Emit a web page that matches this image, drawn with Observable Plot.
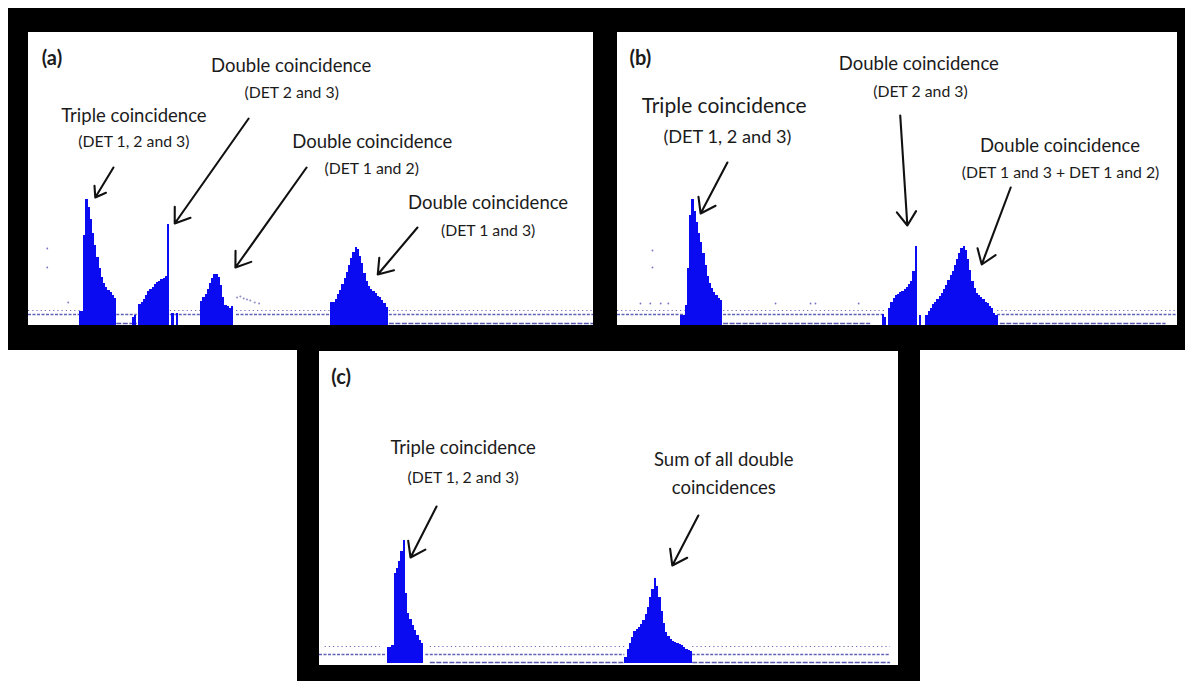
<!DOCTYPE html>
<html><head><meta charset="utf-8">
<script src="https://cdn.jsdelivr.net/npm/d3@7"></script>
<script src="https://cdn.jsdelivr.net/npm/@observablehq/plot@0.6"></script>
<style>
body{margin:0;background:#fff}
#fig{position:relative;width:1185px;height:681px;background:#fff;overflow:hidden}
.frame{position:absolute;background:#000}
.inner{position:absolute;line-height:0}
</style></head><body>
<div id="fig">
 <div class="frame" style="left:8px;top:8px;width:589px;height:342px"><div class="inner" id="pa" style="left:20px;top:24px"></div></div>
 <div class="frame" style="left:597px;top:8px;width:588px;height:342px"><div class="inner" id="pb" style="left:20px;top:24px"></div></div>
 <div class="frame" style="left:297px;top:350px;width:623px;height:331px"><div class="inner" id="pc" style="left:22px;top:1px"></div></div>
</div>
<script>
// ---- data: channel bins (4 channels each), counts per bin ----
const BIN = 4;

// panel (a)
const aPreStart = 92,    aPreCounts = [14, 14];
const aTripleStart = 100, aTripleCounts = [90,126,118,106,92,80,68,57,48,42,38,35,33,30,27];
const aD23PreStart = 188, aD23PreCounts = [8, 10];
const aD23Start = 200,   aD23Counts = [21,23,26,30,34,36,38,41,43,44,46,47,49,101];
const aD23PostStart = 260, aD23PostCounts = [12, 0, 12];
const aD12Start = 312,   aD12Counts = [24,28,31,36,42,47,51,51,48,40,28,20,19,17,19];
const aD13Start = 548,   aD13Counts = [23,23,26,31,35,41,47,53,60,67,73,78,76,69,62,52,44,39,36,34,32,29,28,25,22,18];

// panel (b)
const bPreStart = 116,   bPreCounts = [10, 10];
const bTripleStart = 124, bTripleCounts = [20,57,110,126,114,103,92,83,72,60,49,42,37,33,30,27,25];
const bD23PreStart = 484, bD23PreCounts = [11, 8];
const bD23Start = 496,   bD23Counts = [17,23,27,30,31,33,34,36,38,41,44,54,79];
const bD23PostStart = 552, bD23PostCounts = [10, 0, 0, 10];
const bDblStart = 568,   bDblCounts = [14,17,21,23,26,29,32,36,40,45,50,54,60,66,72,77,79,75,66,55,44,37,32,30,28,26,23,22,19,17,12,10];

// panel (c)
const cTripleStart = 120, cTripleCounts = [16,16,18,90,95,102,112,123,70,50,44,38,33,28,23,20];
const cSumStart = 540,   cSumCounts = [6,14,20,26,32,34,36,39,43,49,56,66,74,85,77,66,52,40,31,27,24,22,21,20,19,18,16,14,13,12];

// low-count background rows: [fromChannel, toChannel] at a count level
const aHighLevel = 15, aHighRows = [[0,94],[257,312],[377,547],[654,1024]];
const aLowLevel = 11,  aLowRows  = [[0,94],[160,197],[257,312],[377,547],[654,1024]];
const aBaseLevel = 2,  aBaseRows = [[160,197],[654,1024]];
const bHighLevel = 15, bHighRows = [[0,124],[194,490],[695,1024]];
const bLowLevel = 11,  bLowRows  = [[0,124],[194,490],[695,1024]];
const bBaseLevel = 2,  bBaseRows = [[194,463],[700,1003]];
const cHighLevel = 17, cHighRows = [[10,108],[196,541],[660,1010]];
const cLowLevel = 9,   cLowRows  = [[0,117],[188,540],[660,1010]];
const cBaseLevel = 1,  cBaseRows = [[196,540],[660,1010]];

// isolated counts
const aDots = [[34,77],[34,58],[72,23]];
const aTrail = [[378,28],[384,29],[390,27],[396,26],[402,25],[410,23],[418,22]];
const bDots = [[64,75],[64,58],[42,22],[60,22],[79,22],[93,22],[289,22],[353,22],[362,22],[441,22]];
const cDots = [];

// annotations
const aLabels = [
  {text:"(a)", x:24, y:267, kind:"tag"},
  {text:"Triple coincidence", x:191, y:209, kind:"main"},
  {text:"(DET 1, 2 and 3)", x:191, y:184, kind:"sub"},
  {text:"Double coincidence", x:476, y:259, kind:"main"},
  {text:"(DET 2 and 3)", x:477, y:233, kind:"sub"},
  {text:"Double coincidence", x:623, y:183, kind:"main"},
  {text:"(DET 1 and 2)", x:622, y:157, kind:"sub"},
  {text:"Double coincidence", x:833, y:122, kind:"main"},
  {text:"(DET 1 and 3)", x:833, y:95, kind:"sub"}
];
const bLabels = [
  {text:"(b)", x:22, y:267, kind:"tag"},
  {text:"Triple coincidence", x:195, y:219, kind:"big"},
  {text:"(DET 1, 2 and 3)", x:201, y:188, kind:"bigsub"},
  {text:"Double coincidence", x:551, y:261, kind:"main"},
  {text:"(DET 2 and 3)", x:554, y:234, kind:"sub"},
  {text:"Double coincidence", x:809, y:179, kind:"main"},
  {text:"(DET 1 and 3 + DET 1 and 2)", x:810, y:153, kind:"sub"}
];
const cLabels = [
  {text:"(c)", x:21, y:286, kind:"tag"},
  {text:"Triple coincidence", x:254, y:215, kind:"main"},
  {text:"(DET 1, 2 and 3)", x:254, y:186, kind:"sub"},
  {text:"Sum of all double", x:715, y:203, kind:"main"},
  {text:"coincidences", x:715, y:175, kind:"main"}
];
const aArrows = [[154,158,121,128],[399,207,265,102],[504,158,375,58],[705,98,633,51]];
const bArrows = [[201,163,152,112],[517,210,530,100],[719,138,666,61]];
const cArrows = [[207,157,161,106],[670,148,624,98]];

// ---- drawing ----
const BLUE = "#0b0bf2", NAVY = "#3a3aa6", INK = "#1b1b1b";
const FONT = "Lato, 'Open Sans', sans-serif";
const SIZES = {tag: 20, main: 18.5, sub: 15.8, big: 21, bigsub: 18.2};

function bins(start, counts) {
  return counts.map((c, i) => ({x1: start + BIN * i, x2: start + BIN * (i + 1), count: c}));
}
function rows(list, level) { return list.map(([from, to]) => ({from, to, level})); }

function panel({width, height, marginBottom = 0, yMax, peaks, high, low, base, dots, trail = [], labels, arrows}) {
  const hist = peaks.flatMap(([s, c]) => bins(s, c));
  const textMarks = Object.keys(SIZES).map(kind =>
    Plot.text(labels.filter(d => d.kind === kind), {
      x: "x", y: "y", text: "text",
      textAnchor: kind === "tag" ? "start" : "middle",
      fontSize: SIZES[kind], fontWeight: kind === "tag" ? "bold" : "normal",
      fill: INK
    }));
  return Plot.plot({
    width, height, margin: 0, marginBottom,
    x: {domain: [0, 1024], axis: null},
    y: {domain: [0, yMax], axis: null},
    style: {background: "#fff", fontFamily: FONT},
    marks: [
      Plot.ruleY(high, {y: "level", x1: "from", x2: "to", stroke: NAVY, strokeWidth: 1.2, strokeDasharray: "1.2,3", strokeOpacity: 0.75}),
      Plot.ruleY(low, {y: "level", x1: "from", x2: "to", stroke: NAVY, strokeWidth: 1.3, strokeDasharray: "3,1.5", strokeOpacity: 0.8}),
      Plot.ruleY(base, {y: "level", x1: "from", x2: "to", stroke: NAVY, strokeWidth: 1.4, strokeDasharray: "5,1.5", strokeOpacity: 0.85}),
      Plot.dot(dots, {x: d => d[0], y: d => d[1], r: 0.9, fill: NAVY, stroke: null, fillOpacity: 0.7}),
      Plot.dot(trail, {x: d => d[0], y: d => d[1], r: 1, fill: "#8c8cc8", stroke: null}),
      Plot.rect(hist, {x1: "x1", x2: "x2", y1: 0, y2: "count", fill: BLUE, shapeRendering: "crispEdges"}),
      ...textMarks,
      Plot.arrow(arrows, {x1: d => d[0], y1: d => d[1], x2: d => d[2], y2: d => d[3],
        stroke: "#111", strokeWidth: 2.1, headLength: 12, headAngle: 70})
    ]
  });
}

document.getElementById("pa").append(panel({
  width: 565, height: 293, yMax: 293,
  peaks: [[aPreStart, aPreCounts], [aTripleStart, aTripleCounts], [aD23PreStart, aD23PreCounts], [aD23Start, aD23Counts],
          [aD23PostStart, aD23PostCounts], [aD12Start, aD12Counts], [aD13Start, aD13Counts]],
  high: rows(aHighRows, aHighLevel), low: rows(aLowRows, aLowLevel), base: rows(aBaseRows, aBaseLevel),
  dots: aDots, trail: aTrail, labels: aLabels, arrows: aArrows
}));
document.getElementById("pb").append(panel({
  width: 560, height: 293, yMax: 293,
  peaks: [[bPreStart, bPreCounts], [bTripleStart, bTripleCounts], [bD23PreStart, bD23PreCounts], [bD23Start, bD23Counts],
          [bD23PostStart, bD23PostCounts], [bDblStart, bDblCounts]],
  high: rows(bHighRows, bHighLevel), low: rows(bLowRows, bLowLevel), base: rows(bBaseRows, bBaseLevel),
  dots: bDots, labels: bLabels, arrows: bArrows
}));
document.getElementById("pc").append(panel({
  width: 579, height: 314, marginBottom: 2, yMax: 312,
  peaks: [[cTripleStart, cTripleCounts], [cSumStart, cSumCounts]],
  high: rows(cHighRows, cHighLevel), low: rows(cLowRows, cLowLevel), base: rows(cBaseRows, cBaseLevel),
  dots: cDots, labels: cLabels, arrows: cArrows
}));
</script>
</body></html>
